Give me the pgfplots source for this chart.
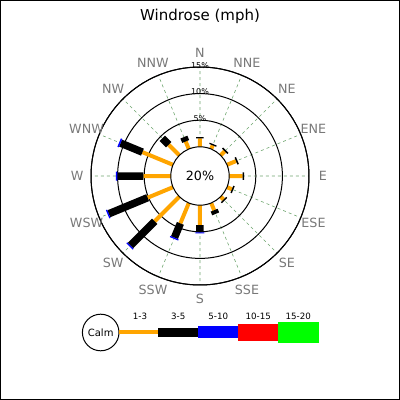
\documentclass[border=0pt]{standalone}
\usepackage{pgfplots}
\pgfplotsset{compat=1.18}
\usepgfplotslibrary{polar}
\usepackage{fontspec}
\setmainfont{DejaVu Sans}
\definecolor{wrorange}{RGB}{255,165,0}
\definecolor{wrgrid}{RGB}{110,165,110}
\definecolor{wrlabel}{RGB}{120,120,120}
\newcommand{\dirfont}{\fontsize{12.7}{15}\selectfont}

\begin{document}
\begin{tikzpicture}[x=1pt,y=1pt]
\useasboundingbox (0,0) rectangle (400,400);
\draw[line width=1pt] (0.5,0.5) rectangle (399.5,399.5);
\node[font=\fontsize{15}{18}\selectfont, anchor=base] at (200,379.3) {Windrose (mph)};

\begin{polaraxis}[
  at={(200pt,224pt)}, anchor=center,
  scale only axis, width=218pt, height=218pt,
  xmin=0, xmax=360, ymin=0, ymax=20.5,
  xtick={0,22.5,...,337.5}, ytick={10.5,15.5,20.5},
  xticklabels={}, yticklabels={},
  major tick length=0pt,
  grid=major,
  x grid style={wrgrid, dashed, line width=0.6pt},
  y grid style={black, line width=1pt},
  x axis line style={black, line width=1pt},
  y axis line style={draw=none},
  clip=false,
]
% 1-3 mph (calm circle sits at r = 5.5)
\addplot[wrorange, line width=4pt] coordinates {
(90,5.5) (90,7.09)

(67.5,5.5) (67.5,6.24)

(45,5.5) (45,6.58)

(22.5,5.5) (22.5,7.33)

(0,5.5) (0,8.03)

(337.5,5.5) (337.5,6.49)

(315,5.5) (315,6.26)

(292.5,5.5) (292.5,6.96)

(270,5.5) (270,9.22)

(247.5,5.5) (247.5,9.65)

(225,5.5) (225,12.04)

(202.5,5.5) (202.5,10.66)

(180,5.5) (180,10.66)

(157.5,5.5) (157.5,11.72)

(135,5.5) (135,8.33)

(112.5,5.5) (112.5,7.03)
};
% 3-5 mph
\addplot[black, line width=7.5pt] coordinates {
(90,7.09) (90,7.30)

(67.5,6.24) (67.5,6.49)

(45,6.58) (45,6.86)

(22.5,7.33) (22.5,7.62)

(0,8.03) (0,8.28)

(337.5,6.49) (337.5,6.77)

(315,6.26) (315,6.53)

(292.5,6.96) (292.5,7.71)

(270,9.22) (270,10.59)

(247.5,9.65) (247.5,12.54)

(225,12.04) (225,18.49)

(202.5,10.66) (202.5,18.56)

(180,10.66) (180,15.55)

(157.5,11.72) (157.5,16.17)

(135,8.33) (135,10.02)

(112.5,7.03) (112.5,7.92)
};
% 5-10 mph
\addplot[blue, line width=9pt] coordinates {
(270,10.59) (270,10.78)

(247.5,12.54) (247.5,12.79)

(225,18.49) (225,18.75)

(202.5,18.56) (202.5,18.81)

(180,15.55) (180,15.80)

(157.5,16.17) (157.5,16.46)
};

\node[circle, draw=black, line width=1pt, fill=white, minimum size=58.4pt, inner sep=0pt, font=\dirfont] at (axis cs:0,0) {20\%};

\node[font=\fontsize{8}{9}\selectfont, yshift=1.5pt] at (axis cs:90,10.5) {5\%};
\node[font=\fontsize{8}{9}\selectfont, yshift=1.5pt] at (axis cs:90,15.5) {10\%};
\node[font=\fontsize{8}{9}\selectfont, yshift=1.5pt] at (axis cs:90,20.5) {15\%};

\node[wrlabel, font=\dirfont] at (axis cs:90,23.1) {N};
\node[wrlabel, font=\dirfont] at (axis cs:67.5,23.1) {NNE};
\node[wrlabel, font=\dirfont] at (axis cs:45,23.1) {NE};
\node[wrlabel, font=\dirfont] at (axis cs:22.5,23.1) {ENE};
\node[wrlabel, font=\dirfont] at (axis cs:0,23.1) {E};
\node[wrlabel, font=\dirfont] at (axis cs:337.5,23.1) {ESE};
\node[wrlabel, font=\dirfont] at (axis cs:315,23.1) {SE};
\node[wrlabel, font=\dirfont] at (axis cs:292.5,23.1) {SSE};
\node[wrlabel, font=\dirfont] at (axis cs:270,23.1) {S};
\node[wrlabel, font=\dirfont] at (axis cs:247.5,23.1) {SSW};
\node[wrlabel, font=\dirfont] at (axis cs:225,23.1) {SW};
\node[wrlabel, font=\dirfont] at (axis cs:202.5,23.1) {WSW};
\node[wrlabel, font=\dirfont] at (axis cs:180,23.1) {W};
\node[wrlabel, font=\dirfont] at (axis cs:157.5,23.1) {WNW};
\node[wrlabel, font=\dirfont] at (axis cs:135,23.1) {NW};
\node[wrlabel, font=\dirfont] at (axis cs:112.5,23.1) {NNW};
\end{polaraxis}

% legend
\draw[line width=1pt] (100.7,67.5) circle (18.3);
\node[font=\fontsize{10}{12}\selectfont] at (100.7,67.5) {Calm};
\fill[wrorange] (119,65.85) rectangle (158.3,69.55);
\fill[black] (158.3,63.2) rectangle (198.3,72.2);
\fill[blue] (198.3,61.55) rectangle (238.3,73.85);
\fill[red] (238.3,59.35) rectangle (278.3,76.05);
\fill[green] (278.3,57.35) rectangle (319.3,78.05);
\begin{scope}[every node/.style={font=\fontsize{8.7}{10}\selectfont}]
\node at (140,83.3) {1-3};
\node at (178.3,83.3) {3-5};
\node at (218.3,83.3) {5-10};
\node at (258.3,83.3) {10-15};
\node at (298.3,83.3) {15-20};
\end{scope}
\end{tikzpicture}
\end{document}
